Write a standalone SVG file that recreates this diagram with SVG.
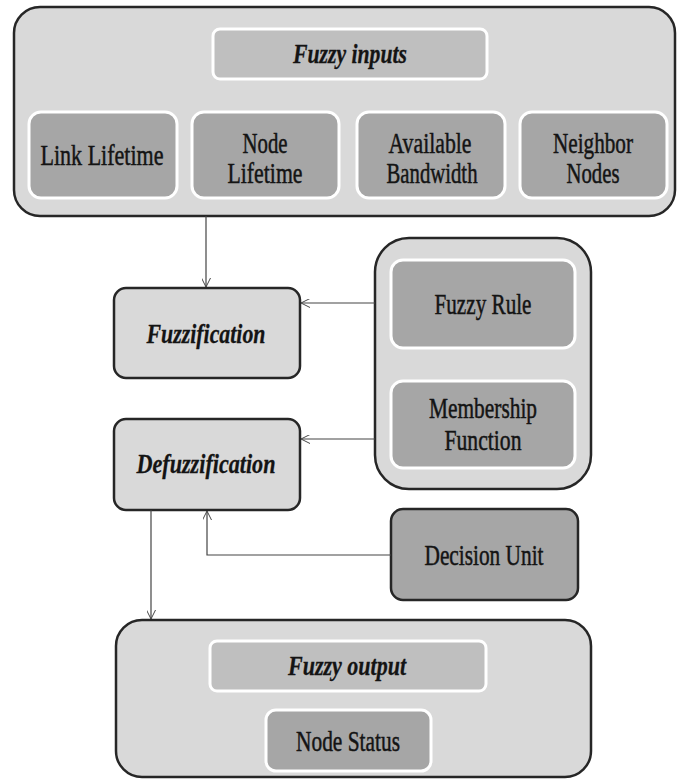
<svg xmlns="http://www.w3.org/2000/svg" width="678" height="780" viewBox="0 0 678 780">
<defs>
<marker id="arr" viewBox="0 0 10 10" refX="10" refY="5" markerWidth="9" markerHeight="9" markerUnits="userSpaceOnUse" orient="auto">
<path d="M0,0 L10,5 L0,10" fill="none" stroke="#444" stroke-width="1.1"/>
</marker>
<style>
.cont{fill:#d9d9d9;stroke:#262626;stroke-width:2.5}
.proc{fill:#d9d9d9;stroke:#262626;stroke-width:2.5}
.lite{fill:#bfbfbf;stroke:#ffffff;stroke-width:3}
.dark{fill:#a6a6a6;stroke:#ffffff;stroke-width:3}
.dec{fill:#a6a6a6;stroke:#262626;stroke-width:2.5}
.t{font-size:30px;fill:#141414;stroke:#141414;stroke-width:0.5;text-anchor:middle}
.bi{font-weight:bold;font-style:italic;font-size:28px;stroke-width:0.3}
.c{fill:none;stroke:#444;stroke-width:1.2}
</style>
</defs>
<rect width="678" height="780" fill="#fff"/>
<g font-family="Liberation Serif, Times New Roman, serif">
<g id="fuzzy-inputs-container">
<rect class="cont" x="14" y="7" width="661" height="209" rx="26"/>
</g>
<g id="fuzzy-inputs">
<rect class="lite" x="213" y="29" width="274" height="50" rx="7"/>
<text class="t bi" x="350" y="63" textLength="114" lengthAdjust="spacingAndGlyphs">Fuzzy inputs</text>
</g>
<g id="link-lifetime">
<rect class="dark" x="29" y="112" width="148" height="86" rx="12"/>
<text class="t" x="102" y="165" textLength="123" lengthAdjust="spacingAndGlyphs">Link Lifetime</text>
</g>
<g id="node-lifetime">
<rect class="dark" x="192" y="112" width="147" height="86" rx="12"/>
<text class="t" x="265" y="153" textLength="45" lengthAdjust="spacingAndGlyphs">Node</text>
<text class="t" x="265" y="183" textLength="75" lengthAdjust="spacingAndGlyphs">Lifetime</text>
</g>
<g id="available-bandwidth">
<rect class="dark" x="357" y="112" width="148" height="86" rx="12"/>
<text class="t" x="430" y="153" textLength="83" lengthAdjust="spacingAndGlyphs">Available</text>
<text class="t" x="432" y="183" textLength="91" lengthAdjust="spacingAndGlyphs">Bandwidth</text>
</g>
<g id="neighbor-nodes">
<rect class="dark" x="520" y="112" width="147" height="86" rx="12"/>
<text class="t" x="593" y="153" textLength="80" lengthAdjust="spacingAndGlyphs">Neighbor</text>
<text class="t" x="593" y="183" textLength="53" lengthAdjust="spacingAndGlyphs">Nodes</text>
</g>
<g id="fuzzification">
<rect class="proc" x="114" y="288" width="186" height="90" rx="12"/>
<text class="t bi" x="206" y="343" textLength="119" lengthAdjust="spacingAndGlyphs">Fuzzification</text>
</g>
<g id="defuzzification">
<rect class="proc" x="114" y="419" width="186" height="91" rx="12"/>
<text class="t bi" x="206" y="473" textLength="139" lengthAdjust="spacingAndGlyphs">Defuzzification</text>
</g>
<g id="rules-container">
<rect class="cont" x="375" y="238" width="216" height="251" rx="34"/>
</g>
<g id="fuzzy-rule">
<rect class="dark" x="391" y="260" width="184" height="88" rx="12"/>
<text class="t" x="483" y="314" textLength="97" lengthAdjust="spacingAndGlyphs">Fuzzy Rule</text>
</g>
<g id="membership-function">
<rect class="dark" x="391" y="381" width="184" height="87" rx="12"/>
<text class="t" x="483" y="418" textLength="108" lengthAdjust="spacingAndGlyphs">Membership</text>
<text class="t" x="483" y="450" textLength="77" lengthAdjust="spacingAndGlyphs">Function</text>
</g>
<g id="decision-unit">
<rect class="dec" x="391" y="509" width="187" height="91" rx="12"/>
<text class="t" x="484" y="565" textLength="119" lengthAdjust="spacingAndGlyphs">Decision Unit</text>
</g>
<g id="fuzzy-output-container">
<rect class="cont" x="116" y="620" width="475" height="157" rx="26"/>
</g>
<g id="fuzzy-output">
<rect class="lite" x="210" y="641" width="276" height="50" rx="7"/>
<text class="t bi" x="347" y="675" textLength="118" lengthAdjust="spacingAndGlyphs">Fuzzy output</text>
</g>
<g id="node-status">
<rect class="dark" x="266" y="710" width="165" height="61" rx="10"/>
<text class="t" x="348" y="751" textLength="104" lengthAdjust="spacingAndGlyphs">Node Status</text>
</g>
</g>
<g id="connectors">
<path class="c" d="M206,216 V287" marker-end="url(#arr)"/>
<path class="c" d="M375,303 H301" marker-end="url(#arr)"/>
<path class="c" d="M375,439 H301" marker-end="url(#arr)"/>
<path class="c" d="M391,555 H207 V511" marker-end="url(#arr)"/>
<path class="c" d="M151,510 V619" marker-end="url(#arr)"/>
</g>
</svg>
